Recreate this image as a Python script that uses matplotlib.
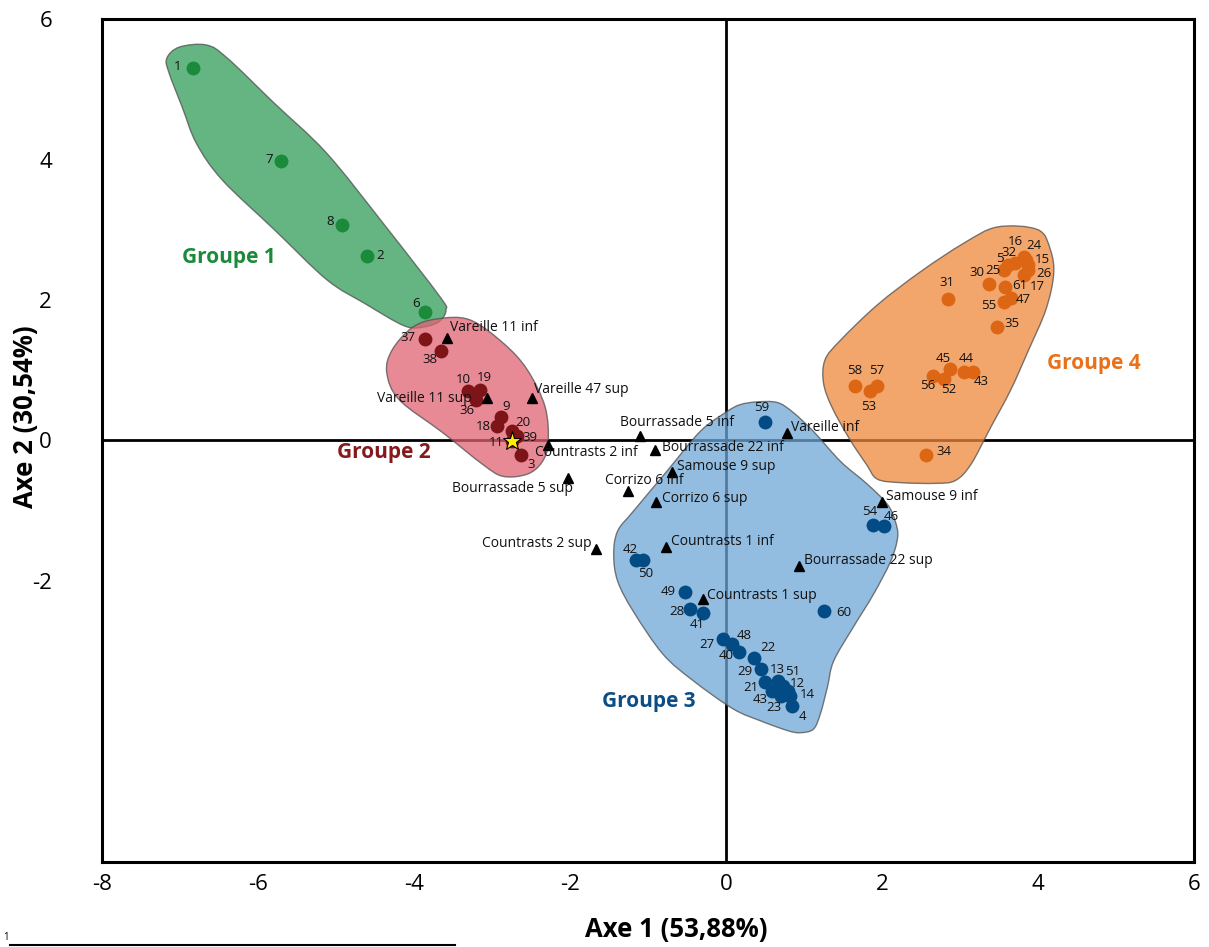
import numpy as np
import matplotlib
matplotlib.use("Agg")
import matplotlib.pyplot as plt
from matplotlib.path import Path
from matplotlib.patches import PathPatch
from matplotlib.lines import Line2D

plt.rcParams['font.family'] = ['Open Sans', 'DejaVu Sans']
plt.rcParams['axes.unicode_minus'] = False

# ---- data ----
g1_lab = ['1', '7', '8', '2', '6']
g1_x = [-6.84, -5.70, -4.92, -4.60, -3.86]
g1_y = [5.30, 3.98, 3.07, 2.63, 1.83]

g2_lab = ['37', '38', '10', '19', '36', '9', '18', '20', '39', '11', '3']
g2_x = [-3.86, -3.65, -3.31, -3.15, -3.20, -2.89, -2.93, -2.75, -2.68, -2.75, -2.63]
g2_y = [1.45, 1.28, 0.71, 0.72, 0.57, 0.33, 0.20, 0.13, 0.06, -0.01, -0.20]

g3_lab = ['59', '54', '46', '42', '50', '49', '28', '41', '60', '27', '48', '40',
          '22', '29', '21', '13', '43', '51', '12', '23', '14', '4']
g3_x = [0.50, 1.89, 2.02, -1.15, -1.06, -0.53, -0.46, -0.29, 1.26, -0.04, 0.08, 0.17,
        0.36, 0.45, 0.50, 0.66, 0.59, 0.73, 0.79, 0.70, 0.82, 0.85]
g3_y = [0.26, -1.21, -1.22, -1.70, -1.70, -2.16, -2.40, -2.46, -2.43, -2.83, -2.90, -3.01,
        -3.10, -3.25, -3.44, -3.42, -3.57, -3.49, -3.57, -3.64, -3.64, -3.78]

g4_lab = ['31', '30', '25', '5', '32', '16', '24', '15', '26', '17', '61', '47',
          '55', '35', '58', '57', '53', '45', '56', '52', '44', '43', '34']
g4_x = [2.85, 3.37, 3.56, 3.61, 3.71, 3.82, 3.84, 3.87, 3.87, 3.82, 3.58, 3.65,
        3.56, 3.47, 1.66, 1.94, 1.84, 2.87, 2.66, 2.79, 3.05, 3.17, 2.56]
g4_y = [2.02, 2.23, 2.43, 2.50, 2.53, 2.61, 2.57, 2.50, 2.43, 2.36, 2.19, 2.03,
        1.97, 1.62, 0.77, 0.78, 0.70, 1.02, 0.92, 0.88, 0.98, 0.98, -0.21]

star_lab = '11'

var_names = ['Vareille 11 inf', 'Vareille 11 sup', 'Vareille 47 sup', 'Countrasts 2 inf',
             'Bourrassade 5 sup', 'Countrasts 2 sup', 'Bourrassade 5 inf', 'Bourrassade 22 inf',
             'Samouse 9 sup', 'Corrizo 6 inf', 'Corrizo 6 sup', 'Countrasts 1 inf',
             'Countrasts 1 sup', 'Vareille inf', 'Samouse 9 inf', 'Bourrassade 22 sup']
var_x = [-3.58, -3.06, -2.49, -2.28, -2.03, -1.67, -1.10, -0.91, -0.69, -1.26, -0.90, -0.77,
         -0.29, 0.78, 2.00, 0.93]
var_y = [1.46, 0.60, 0.60, -0.06, -0.53, -1.55, 0.06, -0.13, -0.45, -0.72, -0.88, -1.52,
         -2.26, 0.10, -0.87, -1.79]

# hull outlines (data coords)
hull1_x = [-7.01, -6.66, -6.39, -5.79, -5.12, -4.38, -3.67, -3.59, -3.67, -3.86, -4.12,
           -4.63, -5.12, -5.79, -6.46, -6.79, -6.97, -7.14, -7.17]
hull1_y = [5.60, 5.63, 5.44, 4.80, 4.09, 3.07, 2.05, 1.86, 1.70, 1.62, 1.63,
           1.95, 2.29, 3.00, 3.71, 4.23, 4.74, 5.23, 5.44]
hull2_x = [-3.71, -3.29, -2.86, -2.55, -2.32, -2.28, -2.36, -2.55, -2.86, -3.12, -3.63, -4.19, -4.35, -4.28, -4.02]
hull2_y = [1.73, 1.72, 1.39, 1.01, 0.48, -0.03, -0.31, -0.48, -0.51, -0.34, 0.11, 0.58, 0.97, 1.29, 1.61]
hull3_x = [0.40, 0.66, 0.86, 1.12, 1.47, 1.81, 2.07, 2.17, 2.20, 2.11, 1.89, 1.63, 1.38, 1.30,
           1.21, 1.12, 0.95, 0.79, 0.44, 0.09, -0.42, -0.81, -1.19, -1.39, -1.44, -1.39,
           -1.19, -0.76, -0.33, 0.01, 0.18]
hull3_y = [0.55, 0.54, 0.40, 0.13, -0.30, -0.62, -0.91, -1.15, -1.38, -1.72, -2.19, -2.66, -3.14, -3.51,
           -3.89, -4.11, -4.16, -4.13, -3.99, -3.82, -3.42, -3.04, -2.43, -2.00, -1.62, -1.29,
           -1.01, -0.44, 0.13, 0.41, 0.51]
hull4_x = [3.48, 4.00, 4.16, 4.20, 4.10, 3.88, 3.65, 3.39, 3.14, 2.94, 2.69, 2.24, 1.94, 1.80,
           1.59, 1.36, 1.25, 1.27, 1.47, 1.94, 2.49, 3.05]
hull4_y = [3.04, 3.00, 2.71, 2.36, 1.86, 1.29, 0.72, 0.18, -0.34, -0.57, -0.61, -0.60, -0.55, -0.34,
           0.01, 0.47, 0.82, 1.15, 1.43, 1.93, 2.40, 2.81]

grp_names = ['Groupe 1', 'Groupe 2', 'Groupe 3', 'Groupe 4']
grp_x = [-6.37, -4.39, -0.99, 4.72]
grp_y = [2.60, -0.17, -3.72, 1.09]

# ---- layout: label offsets in pixels (dx, dy up) ----
g1_off = [(-15, 2), (-12, 1), (-12, 3), (13, 0), (-9, 8)]
g2_off = [(-17, 1), (-11, -9), (-5, 11), (4, 12), (-9, -10), (6, 11), (-14, 0), (11, 9),
          (13, -1), (-15, -1), (10, -10)]
g3_off = [(-3, 15), (-4, 14), (8, 10), (-6, 10), (2, -14), (-16, 1), (-13, -2), (-6, -11),
          (20, -1), (-16, -5), (12, 9), (-13, -4), (14, 11), (-16, -3), (-14, -5), (0, 11),
          (-12, -8), (10, 14), (10, 8), (-7, -11), (17, 2), (10, -10)]
g4_off = [(-1, 16), (-12, 11), (-11, -1), (-8, 6), (-6, 10), (-9, 16), (8, 14), (14, 5),
          (16, -4), (13, -12), (15, 1), (13, -2), (-15, -3), (15, 3), (-1, 16), (-1, 15),
          (-1, -15), (-7, 10), (-6, -10), (5, -11), (2, 13), (8, -10), (18, 4)]
var_off = [(3, 10, 'left'), (-16, 0, 'right'), (2, 9, 'left'), (-13, -8, 'left'),
           (5, -11, 'right'), (-4, 6, 'right'), (-20, 14, 'left'), (7, 2, 'left'),
           (5, 6, 'left'), (-23, 11, 'left'), (6, 4, 'left'), (5, 6, 'left'),
           (4, 4, 'left'), (4, 6, 'left'), (4, 5, 'left'), (5, 6, 'left')]

dot_cols = ['#1b8a3a', '#7d1518', '#034b84', '#dc6614']
hull_cols = ['#309c58', '#e06373', '#6fa7d6', '#ee883b']
txt_cols = ['#1b8a3a', '#851a1d', '#0c4d87', '#e8711a']


def smooth_hull(xs, ys):
    pts = np.column_stack([xs, ys])
    n = len(pts)
    verts = [pts[0]]
    codes = [Path.MOVETO]
    for i in range(n):
        p0, p1, p2, p3 = pts[i - 1], pts[i], pts[(i + 1) % n], pts[(i + 2) % n]
        verts += [p1 + (p2 - p0) / 6, p2 - (p3 - p1) / 6, p2]
        codes += [Path.CURVE4] * 3
    verts.append(pts[0])
    codes.append(Path.CLOSEPOLY)
    return Path(verts, codes)


fig = plt.figure(figsize=(12.09, 9.47), dpi=100)
ax = fig.add_axes([0.0844, 0.0898, 0.9032, 0.8901])
ax.set_xlim(-8, 6)
ax.set_ylim(-6, 6)

ax.axhline(0, color='black', lw=2, zorder=1)
ax.axvline(0, color='black', lw=2, zorder=1)

hulls = [(hull1_x, hull1_y), (hull2_x, hull2_y), (hull3_x, hull3_y), (hull4_x, hull4_y)]
for (hx, hy), c in zip(hulls, hull_cols):
    ax.add_patch(PathPatch(smooth_hull(hx, hy), facecolor=c, alpha=0.75,
                           edgecolor='#505050', lw=1.0, zorder=2))

groups = [(g1_lab, g1_x, g1_y, g1_off), (g2_lab, g2_x, g2_y, g2_off),
          (g3_lab, g3_x, g3_y, g3_off), (g4_lab, g4_x, g4_y, g4_off)]
for (lab, xs, ys, off), c in zip(groups, dot_cols):
    ax.plot(xs, ys, 'o', ms=10, color=c, mec='none', zorder=4)
    for t, x, y, (dx, dy) in zip(lab, xs, ys, off):
        ax.annotate(t, (x, y), xytext=(dx, dy), textcoords='offset pixels',
                    ha='center', va='center', fontsize=9.5, color='#111111', zorder=6)

si = g2_lab.index(star_lab)
ax.plot(g2_x[si], g2_y[si], '*', ms=14, color='#ffee00', mec='black', mew=0.8, zorder=5)

ax.plot(var_x, var_y, '^', ms=7.5, color='black', zorder=5)
for t, x, y, (dx, dy, ha) in zip(var_names, var_x, var_y, var_off):
    ax.annotate(t, (x, y), xytext=(dx, dy), textcoords='offset pixels',
                ha=ha, va='center', fontsize=10, color='#111111', zorder=6)

for t, x, y, c in zip(grp_names, grp_x, grp_y, txt_cols):
    ax.text(x, y, t, ha='center', va='center', fontsize=15, fontweight='bold',
            color=c, zorder=6)

ax.set_xticks(range(-8, 7, 2))
ax.set_yticks([-2, 0, 2, 4, 6])
ax.tick_params(length=0, labelsize=16)
ax.tick_params(axis='x', pad=9)
ax.tick_params(axis='y', pad=36)
for s in ax.spines.values():
    s.set_linewidth(2.2)

ax.set_xlabel('Axe 1 (53,88%)', fontsize=18.5, fontweight='bold')
ax.set_ylabel('Axe 2 (30,54%)', fontsize=18.5, fontweight='bold')
ax.xaxis.set_label_coords(0.526, -0.064)
ax.yaxis.set_label_coords(-0.058, 0.528)

# cropped bit of the next figure at the bottom edge
fig.text(3 / 1209, 4 / 947, '1', fontsize=7, ha='left', va='bottom')
fig.add_artist(Line2D([10 / 1209, 455 / 1209], [2 / 947, 2 / 947], color='black', lw=1.5))

fig.savefig('out.png', dpi=100)
